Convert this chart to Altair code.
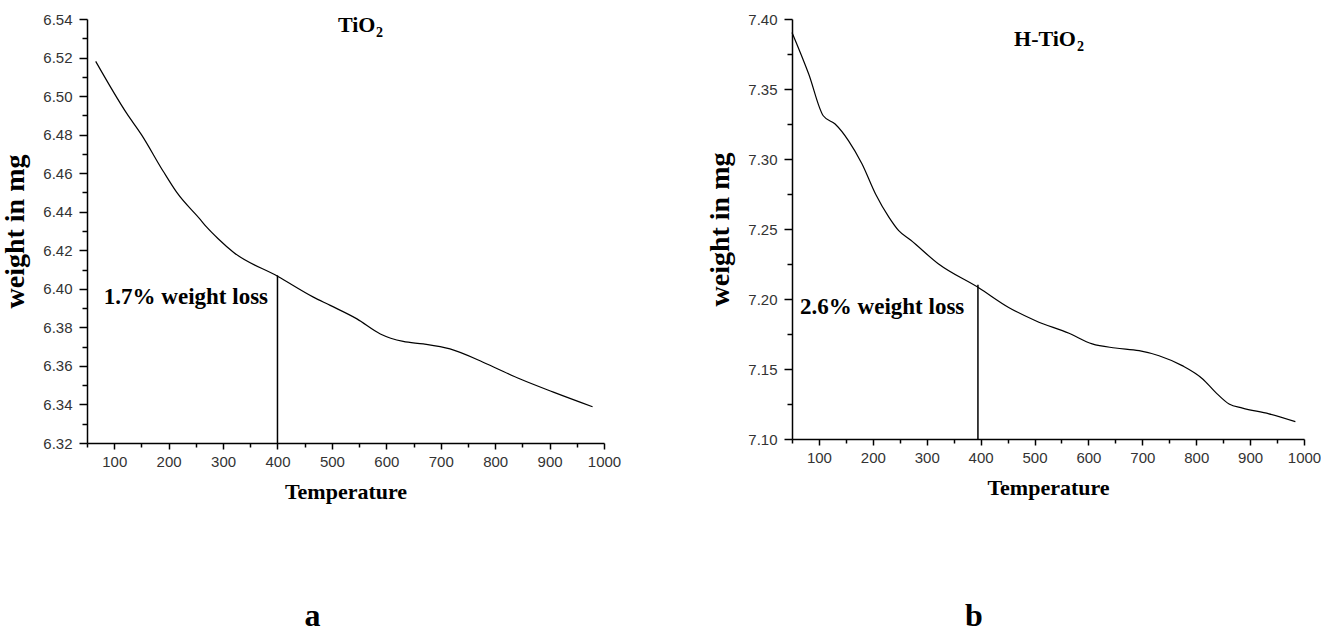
import altair as alt
import pandas as pd

# ---- panel a (TiO2) ----
a_temp = [66, 123, 150, 190, 215, 258, 270, 291, 319, 401, 466, 497, 546, 589, 631, 668, 717, 785, 846, 907, 979]
a_weight = [6.518, 6.491, 6.480, 6.461, 6.450, 6.436, 6.432, 6.426, 6.419, 6.4064, 6.3957, 6.3914, 6.3844,
            6.3766, 6.3727, 6.3714, 6.3688, 6.3610, 6.3532, 6.3464, 6.3388]
a_rule = [400, 6.32, 6.407]
a_note = [81, 6.396, "1.7% weight loss"]
a_title = [511, 6.537, "TiO", "2"]
a_yticks = [6.32, 6.33, 6.34, 6.35, 6.36, 6.37, 6.38, 6.39, 6.40, 6.41, 6.42, 6.43, 6.44, 6.45,
            6.46, 6.47, 6.48, 6.49, 6.50, 6.51, 6.52, 6.53, 6.54]

# ---- panel b (H-TiO2) ----
b_temp = [50, 81, 108, 130, 155, 180, 205, 230, 248, 270, 322, 397, 452, 502, 564, 607, 650, 694, 731,
          774, 812, 836, 861, 886, 935, 984]
b_weight = [7.3904, 7.3607, 7.3309, 7.325, 7.313, 7.2964, 7.275, 7.2583, 7.2488, 7.2421, 7.225, 7.2079,
            7.194, 7.1845, 7.1755, 7.1679, 7.165, 7.1631, 7.1595, 7.1524, 7.1429, 7.1333, 7.125, 7.1221,
            7.118, 7.1124]
b_rule = [395, 7.10, 7.2102]
b_note = [65, 7.194, "2.6% weight loss"]
b_title = [462, 7.386, "H-TiO", "2"]
b_yticks = [7.100, 7.125, 7.150, 7.175, 7.200, 7.225, 7.250, 7.275, 7.300, 7.325, 7.350, 7.375, 7.400]

x_ticks = [50, 100, 150, 200, 250, 300, 350, 400, 450, 500, 550, 600, 650, 700, 750, 800, 850, 900, 950, 1000]

SERIF = "Liberation Serif"
SANS = "Liberation Sans"


def panel(temp, weight, rule, note, title, yticks, ydom, major_test, sub_dx, width, height, letter, letter_dx,
          letter_offset):
    xs = alt.Scale(domain=[50, 1000], nice=False, zero=False)
    ys = alt.Scale(domain=ydom, nice=False, zero=False)
    xaxis = alt.Axis(
        values=x_ticks, format="d",
        labelExpr="datum.value % 100 === 0 ? datum.label : ''",
        tickSize={"condition": {"test": "datum.value % 100 === 0", "value": 6}, "value": 4},
        labelPadding=5, titlePadding=12, titleFontSize=22,
    )
    yaxis = alt.Axis(
        values=yticks, format=".2f",
        labelExpr="(" + major_test + ") ? datum.label : ''",
        tickSize={"condition": {"test": major_test, "value": 8}, "value": 5},
        labelPadding=7, titlePadding=13, titleFontSize=28,
    )
    X = alt.X("T:Q", scale=xs, axis=xaxis, title="Temperature")
    Y = alt.Y("W:Q", scale=ys, axis=yaxis, title="weight in mg")

    curve = alt.Chart(pd.DataFrame({"T": temp, "W": weight})).mark_line(
        color="black", strokeWidth=1.2, interpolate="monotone").encode(x=X, y=Y)

    rl = alt.Chart(pd.DataFrame({"T": [rule[0]], "W": [rule[1]], "W2": [rule[2]]})).mark_rule(
        color="black", strokeWidth=1.5).encode(x=X, y=Y, y2="W2:Q")

    nt = alt.Chart(pd.DataFrame({"T": [note[0]], "W": [note[1]], "label": [note[2]]})).mark_text(
        align="left", baseline="middle", font=SERIF, fontWeight="bold", fontSize=23, color="black"
    ).encode(x=X, y=Y, text="label:N")

    tdf = pd.DataFrame({"T": [title[0]], "W": [title[1]], "main": [title[2]], "sub": [title[3]]})
    tmain = alt.Chart(tdf).mark_text(
        align="left", baseline="middle", font=SERIF, fontWeight="bold", fontSize=22, color="black"
    ).encode(x=X, y=Y, text="main:N")
    tsub = alt.Chart(tdf).mark_text(
        align="left", baseline="middle", font=SERIF, fontWeight="bold", fontSize=14, color="black",
        dx=sub_dx, dy=8
    ).encode(x=X, y=Y, text="sub:N")

    return alt.layer(curve, rl, nt, tmain, tsub).properties(
        width=width, height=height,
        title=alt.TitleParams(letter, orient="bottom", anchor="middle", frame="group", dx=letter_dx,
                              offset=letter_offset, font=SERIF, fontWeight="bold", fontSize=32,
                              color="black"),
    )


left = panel(a_temp, a_weight, a_rule, a_note, a_title, a_yticks, [6.32, 6.54],
             "round(datum.value * 100) % 2 === 0", 38, 517, 424, "a", -33, 99)
right = panel(b_temp, b_weight, b_rule, b_note, b_title, b_yticks, [7.10, 7.40],
              "round(datum.value * 1000) % 50 === 0", 63, 512, 420, "b", -74, 103)

chart = alt.hconcat(left, right, spacing=85).properties(
    padding={"left": 1, "top": 12, "right": 0, "bottom": 0},
    background="white",
).configure_view(stroke=None).configure_axis(
    grid=False, domainColor="black", domainWidth=1.5, tickColor="black", tickWidth=1.5,
    labelFont=SANS, labelFontSize=15, labelColor="#333333", labelOverlap=False, labelFlush=False,
    titleFont=SERIF, titleFontWeight="bold", titleColor="black",
)

chart.save("out.html", embed_options={"renderer": "svg", "actions": False})
